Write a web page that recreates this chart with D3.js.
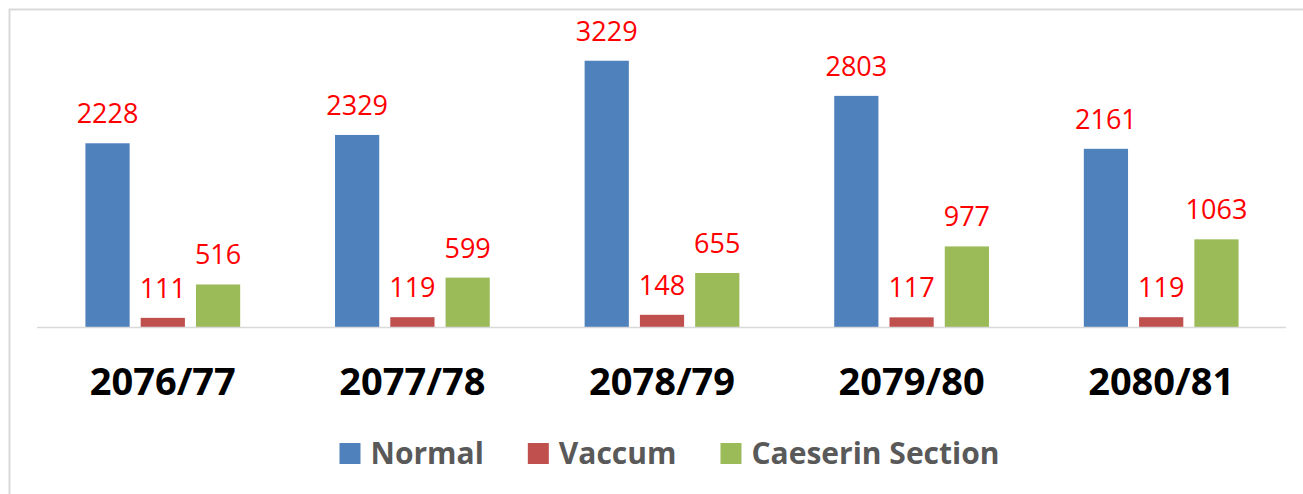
<!DOCTYPE html>
<html>
<head>
<meta charset="utf-8">
<script src="https://cdn.jsdelivr.net/npm/d3@7"></script>
<style>
  body { margin: 0; background: #fff; }
  svg { display: block; }
</style>
</head>
<body>
<div id="content"></div>
<script>
// data
var years = ["2076/77", "2077/78", "2078/79", "2079/80", "2080/81"];
var seriesNames = ["Normal", "Vaccum", "Caeserin Section"];
var normalValues = [2228, 2329, 3229, 2803, 2161];
var vaccumValues = [111, 119, 148, 117, 119];
var caeserinValues = [516, 599, 655, 977, 1063];
var seriesColors = ["#4F81BD", "#C0504D", "#9BBB59"];

var allValues = [normalValues, vaccumValues, caeserinValues];

// table for d3
var rows = years.map(function(y, i) {
    return {
        year: y,
        values: seriesNames.map(function(s, j) {
            return {name: s, value: allValues[j][i], color: seriesColors[j]};
        })
    };
});

var width = 1303, height = 494;

var svg = d3.select("#content")
    .append("svg")
    .attr("width", width)
    .attr("height", height);

// chart frame (only left and top edges are visible)
svg.append("rect")
    .attr("x", 9.5)
    .attr("y", 9.5)
    .attr("width", width + 20)
    .attr("height", height + 20)
    .attr("fill", "none")
    .attr("stroke", "#d9d9d9")
    .attr("stroke-width", 2);

var x0 = d3.scaleBand()
    .domain(years)
    .range([38, 1286])
    .paddingInner(0.38)
    .paddingOuter(0.19);

var x1 = d3.scaleBand()
    .domain(seriesNames)
    .range([0, x0.bandwidth()])
    .paddingInner(0.2);

var y = d3.scaleLinear()
    .domain([0, 3500])
    .range([327, 38.4]);

var groups = svg.selectAll(".group")
    .data(rows)
    .enter().append("g")
    .attr("class", "group")
    .attr("transform", d => "translate(" + x0(d.year) + ",0)");

groups.selectAll("rect")
    .data(d => d.values)
    .enter().append("rect")
    .attr("x", d => x1(d.name))
    .attr("y", d => y(d.value))
    .attr("width", x1.bandwidth())
    .attr("height", d => y(0) - y(d.value))
    .attr("fill", d => d.color);

// value labels
groups.selectAll(".lbl")
    .data(d => d.values)
    .enter().append("text")
    .attr("class", "lbl")
    .attr("x", d => x1(d.name) + x1.bandwidth() / 2)
    .attr("y", d => y(d.value) - 20)
    .attr("text-anchor", "middle")
    .attr("font-family", "'Open Sans', sans-serif")
    .attr("font-size", 27)
    .attr("fill", "#FF0000")
    .text(d => d.value);

// baseline
svg.append("line")
    .attr("x1", 37)
    .attr("x2", 1286)
    .attr("y1", y(0) + 0.5)
    .attr("y2", y(0) + 0.5)
    .attr("stroke", "#d9d9d9")
    .attr("stroke-width", 1.5);

// category labels
svg.selectAll(".cat")
    .data(years)
    .enter().append("text")
    .attr("class", "cat")
    .attr("x", d => x0(d) + x0.bandwidth() / 2)
    .attr("y", 395)
    .attr("text-anchor", "middle")
    .attr("font-family", "'Open Sans', sans-serif")
    .attr("font-weight", "bold")
    .attr("font-size", 38)
    .attr("fill", "#000")
    .text(d => d);

// legend
var legend = svg.append("g");
var items = legend.selectAll(".item")
    .data(seriesNames)
    .enter().append("g")
    .attr("class", "item");

items.append("rect")
    .attr("width", 21)
    .attr("height", 21)
    .attr("y", 443)
    .attr("fill", (d, i) => seriesColors[i]);

items.append("text")
    .attr("x", 31)
    .attr("y", 464)
    .attr("font-family", "'Open Sans', sans-serif")
    .attr("font-weight", "bold")
    .attr("font-size", 30)
    .attr("fill", "#595959")
    .text(d => d);

var offset = 0;
items.each(function() {
    var w = d3.select(this).select("text").node().getComputedTextLength();
    d3.select(this).attr("transform", "translate(" + offset + ",0)");
    offset += 31 + w + 44;
});
var total = offset - 44;
legend.attr("transform", "translate(" + (669.5 - total / 2) + ",0)");
</script>
</body>
</html>
